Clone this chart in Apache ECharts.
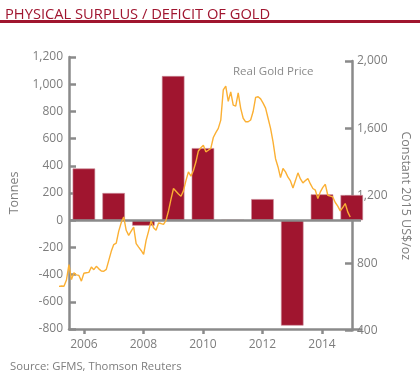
<!DOCTYPE html>
<html>
<head>
<meta charset="utf-8">
<script src="https://cdn.jsdelivr.net/npm/echarts@6/dist/echarts.min.js"></script>
<style>html,body{margin:0;padding:0;background:#fff;}#c{width:420px;height:380px;}</style>
</head>
<body>
<div id="c"></div>
<script>
// Physical surplus / deficit (tonnes), one bar per year, drawn at mid-year
var barYears = [2006, 2007, 2008, 2009, 2010, 2011, 2012, 2013, 2014, 2015];
var surplus = [380, 200, -40, 1060, 530, 0, 155, -775, 190, 185];

// Real gold price (constant 2015 US$/oz), monthly from Jan 2006
var priceStartYear = 2006;
var realPrice = [
  662, 664, 663, 700, 791, 702, 743, 730, 727, 693, 740, 743,
  745, 777, 761, 781, 766, 753, 752, 763, 816, 870, 910, 919,
  990, 1040, 1074, 995, 965, 990, 1014, 916, 895, 875, 852, 935,
  990, 1050, 1010, 995, 1038, 1035, 1030, 1054, 1110, 1180, 1243, 1227,
  1210, 1197, 1229, 1290, 1342, 1316, 1350, 1400, 1466, 1485, 1500, 1461,
  1470, 1481, 1546, 1575, 1600, 1649, 1828, 1851, 1760, 1817, 1738, 1732,
  1811, 1719, 1660, 1639, 1639, 1650, 1700, 1784, 1788, 1775, 1750, 1720,
  1660, 1600, 1520, 1420, 1371, 1308, 1362, 1342, 1310, 1288, 1246, 1290,
  1336, 1300, 1276, 1290, 1302, 1270, 1243, 1233, 1183, 1223, 1250, 1268,
  1203, 1198, 1193, 1160, 1138, 1110, 1130, 1154, 1104, 1074
];

var xTickYears = [2006, 2008, 2010, 2012, 2014];
var leftTicks = {min: -800, max: 1200, interval: 200};
var rightTicks = {min: 400, max: 2000, interval: 400};

var RED = '#a0152f';
var GREY = '#8a8a8a';
var LABEL = '#7d7d7d';
var FONT = 'Open Sans';

var barData = barYears.map(function (y, i) { return [y + 0.5, surplus[i]]; });
var lineData = realPrice.map(function (v, i) { return [priceStartYear + i / 12, v]; });
var xCustom = xTickYears.map(function (y) { return y + 0.5; });

var chart = echarts.init(document.getElementById('c'), null, {renderer: 'canvas'});
var xCommon = {
  type: 'value', min: 2006, max: 2015.81,
  splitLine: {show: false}
};
chart.setOption({
  animation: false,
  backgroundColor: '#fff',
  title: {
    text: 'PHYSICAL SURPLUS / DEFICIT OF GOLD',
    left: 0, top: 2,
    textStyle: {color: RED, fontSize: 14.7, fontWeight: 'normal', fontFamily: FONT}
  },
  graphic: [
    {type: 'rect', left: 0, top: 20, shape: {width: 420, height: 3}, style: {fill: RED}},
    {type: 'text', left: 10, top: 361, style: {text: 'Source: GFMS, Thomson Reuters', fill: LABEL, font: '11.3px "Open Sans"'}},
    {type: 'text', left: 233, top: 66, style: {text: 'Real Gold Price', fill: '#8a8a8a', font: '11.5px "Open Sans"'}}
  ],
  grid: [
    {left: 59, right: 59, top: 57, bottom: 51},
    {left: 59, right: 59, top: 61, bottom: 49.5}
  ],
  xAxis: [
    Object.assign({}, xCommon, {
      gridIndex: 0,
      axisLine: {onZero: false, lineStyle: {color: GREY, width: 2.5}},
      axisTick: {show: true, length: 5, lineStyle: {color: GREY, width: 2.5}, customValues: xCustom},
      axisLabel: {color: LABEL, fontSize: 12, fontFamily: FONT, margin: 10, customValues: xCustom,
        formatter: function (v) { return String(Math.floor(v)); }}
    }),
    Object.assign({}, xCommon, {gridIndex: 1, show: false})
  ],
  yAxis: [
    {
      type: 'value', gridIndex: 0, position: 'left',
      min: leftTicks.min, max: leftTicks.max, interval: leftTicks.interval,
      name: 'Tonnes', nameLocation: 'middle', nameGap: 48, nameRotate: 90,
      nameTextStyle: {color: LABEL, fontSize: 12.5, fontFamily: FONT},
      axisLine: {show: true, lineStyle: {color: GREY, width: 2.5}},
      axisTick: {show: true, inside: true, length: 7, lineStyle: {color: GREY, width: 2.5}},
      axisLabel: {color: LABEL, fontSize: 12, fontFamily: FONT, margin: 6,
        formatter: function (v) { return v.toLocaleString('en-US'); }},
      splitLine: {show: false}
    },
    {
      type: 'value', gridIndex: 1, position: 'right',
      min: rightTicks.min, max: rightTicks.max, interval: rightTicks.interval,
      name: 'Constant 2015 US$/oz', nameLocation: 'middle', nameGap: 47, nameRotate: -90,
      nameTextStyle: {color: LABEL, fontSize: 12.5, fontFamily: FONT},
      axisLine: {show: true, lineStyle: {color: GREY, width: 2.5}},
      axisTick: {show: true, inside: true, length: 7, lineStyle: {color: GREY, width: 2.5}},
      axisLabel: {color: LABEL, fontSize: 12, fontFamily: FONT, margin: 5,
        formatter: function (v) { return v.toLocaleString('en-US'); }},
      splitLine: {show: false}
    }
  ],
  series: [
    {
      type: 'bar', xAxisIndex: 0, yAxisIndex: 0, data: barData, barWidth: 22.5,
      itemStyle: {color: RED, borderColor: '#c98a97', borderWidth: 0.6},
      markLine: {
        silent: true, symbol: 'none', label: {show: false},
        lineStyle: {color: GREY, width: 2.5, type: 'solid'},
        data: [{yAxis: 0}]
      }
    },
    {
      type: 'line', xAxisIndex: 1, yAxisIndex: 1, data: lineData, showSymbol: false,
      lineStyle: {color: '#fbb034', width: 1.4}, z: 5
    }
  ]
});
</script>
</body>
</html>
